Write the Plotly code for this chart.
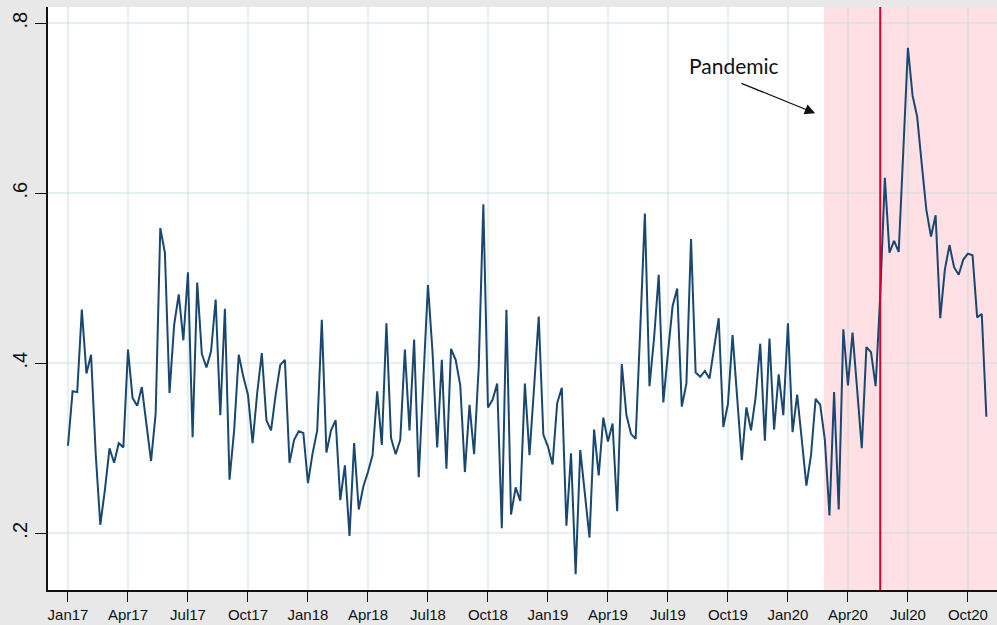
import plotly.graph_objects as go

# weekly series, 2017w1 .. 2020w44 (Stata weekly dates, 52 weeks per year)
values = [
    0.303, 0.367, 0.366, 0.463, 0.388, 0.410, 0.294, 0.210, 0.251, 0.300,
    0.283, 0.306, 0.301, 0.416, 0.359, 0.350, 0.372, 0.329, 0.285, 0.341,
    0.559, 0.530, 0.365, 0.445, 0.481, 0.427, 0.507, 0.313, 0.495, 0.411,
    0.395, 0.414, 0.475, 0.339, 0.464, 0.263, 0.321, 0.410, 0.384, 0.363,
    0.306, 0.365, 0.412, 0.333, 0.321, 0.363, 0.398, 0.404, 0.283, 0.310,
    0.320, 0.318, 0.259, 0.294, 0.321, 0.451, 0.295, 0.321, 0.333, 0.239,
    0.280, 0.197, 0.306, 0.228, 0.255, 0.272, 0.292, 0.367, 0.304, 0.447,
    0.312, 0.293, 0.310, 0.416, 0.321, 0.428, 0.266, 0.380, 0.492, 0.412,
    0.301, 0.404, 0.276, 0.417, 0.404, 0.374, 0.272, 0.351, 0.293, 0.396,
    0.587, 0.348, 0.357, 0.376, 0.206, 0.463, 0.222, 0.254, 0.238, 0.376,
    0.292, 0.372, 0.455, 0.316, 0.302, 0.281, 0.353, 0.371, 0.209, 0.294,
    0.152, 0.298, 0.247, 0.195, 0.322, 0.268, 0.336, 0.308, 0.329, 0.226,
    0.399, 0.339, 0.317, 0.311, 0.440, 0.576, 0.373, 0.430, 0.504, 0.354,
    0.412, 0.467, 0.488, 0.349, 0.376, 0.546, 0.389, 0.384, 0.391, 0.382,
    0.418, 0.453, 0.325, 0.352, 0.433, 0.360, 0.286, 0.348, 0.321, 0.360,
    0.423, 0.309, 0.429, 0.322, 0.387, 0.339, 0.447, 0.319, 0.363, 0.310,
    0.256, 0.292, 0.358, 0.351, 0.310, 0.221, 0.366, 0.228, 0.440, 0.374,
    0.436, 0.369, 0.300, 0.419, 0.413, 0.373, 0.480, 0.618, 0.530, 0.544,
    0.531, 0.650, 0.771, 0.715, 0.690, 0.634, 0.580, 0.549, 0.574, 0.453,
    0.510, 0.539, 0.513, 0.504, 0.522, 0.529, 0.527, 0.454, 0.458, 0.337,
]
weeks = list(range(len(values)))
week_labels = [f"{2017 + w // 52}w{w % 52 + 1}" for w in weeks]

tick_weeks = [0, 13, 26, 39, 52, 65, 78, 91, 104, 117, 130, 143, 156, 169, 182, 195]
tick_text = ["Jan17", "Apr17", "Jul17", "Oct17", "Jan18", "Apr18", "Jul18", "Oct18",
             "Jan19", "Apr19", "Jul19", "Oct19", "Jan20", "Apr20", "Jul20", "Oct20"]
y_ticks = [0.2, 0.4, 0.6, 0.8]
y_text = [".2", ".4", ".6", ".8"]

pandemic_start = 163.8
event_week = 176

fig = go.Figure()

# pandemic shading
fig.add_shape(type="rect", xref="x", yref="paper", x0=pandemic_start, x1=210,
              y0=0, y1=1, fillcolor="rgba(255,0,30,0.12)", line_width=0, layer="below")

fig.add_trace(go.Scatter(
    x=weeks, y=values, mode="lines",
    line=dict(color="#1a476f", width=2),
    text=week_labels, hoverinfo="text+y",
    showlegend=False,
))

fig.add_shape(type="line", xref="x", yref="paper", x0=event_week, x1=event_week,
              y0=0, y1=1, line=dict(color="#d50032", width=2))

fig.add_annotation(x=144.3, y=0.750, text="Pandemic", showarrow=False,
                   font=dict(family="Lato", size=21, color="#111111"))
fig.add_annotation(x=161.9, y=0.694, ax=145.6, ay=0.730, axref="x", ayref="y",
                   text="", showarrow=True, arrowhead=2, arrowsize=1.6,
                   arrowwidth=1.3, arrowcolor="#111111")

fig.update_layout(
    width=997, height=625,
    paper_bgcolor="#e8e8e8",
    plot_bgcolor="#ffffff",
    margin=dict(l=48, r=0, t=7, b=35),
    font=dict(family="Liberation Sans, Arial, sans-serif", color="#111111"),
    xaxis=dict(
        range=[-4.33, 201.3],
        tickvals=tick_weeks, ticktext=tick_text,
        tickfont=dict(size=15),
        ticks="outside", ticklen=10, tickwidth=1.3, tickcolor="#111111",
        showgrid=True, gridcolor="rgba(190,215,222,0.38)", gridwidth=2,
        showline=True, linecolor="#111111", linewidth=1.5,
        zeroline=False, automargin=False,
    ),
    yaxis=dict(
        range=[0.1333, 0.819],
        tickvals=y_ticks, ticktext=y_text,
        tickfont=dict(size=20), tickangle=-90,
        ticks="outside", ticklen=11, tickwidth=1.3, tickcolor="#111111",
        showgrid=True, gridcolor="rgba(190,215,222,0.38)", gridwidth=2,
        showline=True, linecolor="#111111", linewidth=1.5,
        zeroline=False, automargin=False,
    ),
)

# drop the page's default body margin so the figure fills the window
page_js = "document.body.style.margin='0';document.body.style.background='#e8e8e8';"
fig.write_html("out.html", post_script=page_js, config={"displayModeBar": False})
